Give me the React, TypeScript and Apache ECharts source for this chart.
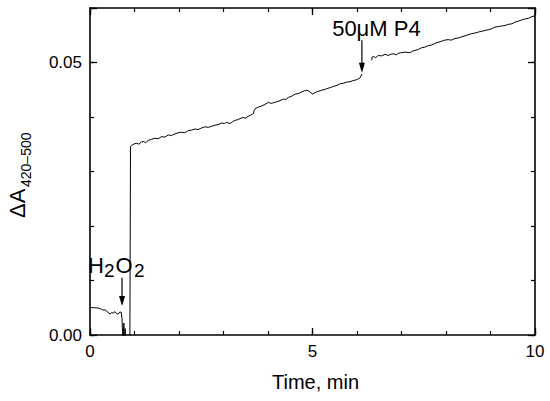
import React, { useEffect, useRef } from "react";
import * as echarts from "echarts";

const FONT = '"Liberation Sans", Arial, Helvetica, sans-serif';

// x ticks (min) and y ticks (ΔA)
const xTickValues = [0, 5, 10];
const yTickValues = [0, 0.05];

// Segment before and right after H2O2 addition (time min, ΔA)
const seg1Time = [0, 0.06, 0.12, 0.18, 0.24, 0.29, 0.34, 0.4, 0.45, 0.49, 0.52, 0.56, 0.6, 0.63, 0.67, 0.7, 0.72, 0.73, 0.745, 0.76, 0.775, 0.79, 0.81, 0.85, 0.895, 0.91];
const seg1Val = [0.0051, 0.005, 0.005, 0.00495, 0.0048, 0.00458, 0.0046, 0.0042, 0.00385, 0.0041, 0.004, 0.0043, 0.0039, 0.00385, 0.0042, 0.0042, 0.003, 0.0005, -0.002, 0.0022, -0.002, 0.0012, -0.003, -0.003, -0.004, 0.0346];

// Rising segment until P4 addition
const seg2Time = [0.94, 1.0, 1.05, 1.1, 1.15, 1.2, 1.25, 1.31, 1.38, 1.46, 1.53, 1.61, 1.68, 1.76, 1.83, 1.91, 1.98, 2.06, 2.13, 2.21, 2.28, 2.36, 2.43, 2.51, 2.58, 2.66, 2.73, 2.81, 2.88, 2.96, 3.02, 3.07, 3.15, 3.2, 3.26, 3.32, 3.37, 3.44, 3.5, 3.55, 3.6, 3.65, 3.67, 3.69, 3.71, 3.75, 3.78, 3.85, 3.93, 4.01, 4.06, 4.12, 4.2, 4.27, 4.35, 4.4, 4.46, 4.53, 4.61, 4.68, 4.76, 4.82, 4.87, 4.91, 4.94, 5.0, 5.06, 5.13, 5.2, 5.26, 5.32, 5.4, 5.47, 5.55, 5.62, 5.7, 5.77, 5.85, 5.92, 5.98, 6.03, 6.07, 6.11];
const seg2Val = [0.0348, 0.0351, 0.0352, 0.035, 0.0354, 0.0355, 0.0353, 0.0357, 0.0359, 0.0361, 0.036, 0.0364, 0.0363, 0.0367, 0.0366, 0.0369, 0.0371, 0.0372, 0.0371, 0.0375, 0.0376, 0.0378, 0.0377, 0.038, 0.0382, 0.0381, 0.0383, 0.0385, 0.0386, 0.0389, 0.0388, 0.039, 0.0388, 0.0391, 0.0394, 0.0395, 0.0397, 0.0399, 0.0398, 0.0401, 0.0403, 0.0405, 0.0406, 0.0412, 0.0415, 0.0417, 0.0418, 0.042, 0.0423, 0.0427, 0.0425, 0.0426, 0.0428, 0.043, 0.0433, 0.0432, 0.0436, 0.0438, 0.0442, 0.0443, 0.0446, 0.0448, 0.0449, 0.0448, 0.0446, 0.0442, 0.0445, 0.0447, 0.0449, 0.045, 0.0452, 0.0454, 0.0456, 0.0458, 0.0461, 0.0462, 0.0464, 0.0465, 0.0467, 0.0468, 0.047, 0.0472, 0.0479];

// Segment after P4 addition
const seg3Time = [6.33, 6.34, 6.37, 6.42, 6.48, 6.55, 6.63, 6.7, 6.76, 6.82, 6.88, 6.93, 7.0, 7.08, 7.19, 7.25, 7.3, 7.38, 7.45, 7.52, 7.6, 7.68, 7.75, 7.82, 7.9, 7.97, 8.05, 8.12, 8.2, 8.28, 8.35, 8.43, 8.5, 8.58, 8.65, 8.73, 8.8, 8.88, 8.95, 9.03, 9.1, 9.18, 9.25, 9.33, 9.4, 9.48, 9.55, 9.63, 9.7, 9.78, 9.85, 9.93, 10.0];
const seg3Val = [0.0504, 0.051, 0.0511, 0.0509, 0.0513, 0.0512, 0.0515, 0.0513, 0.0515, 0.0516, 0.0514, 0.0517, 0.0518, 0.0519, 0.0518, 0.0521, 0.0522, 0.0524, 0.0527, 0.0528, 0.0531, 0.0532, 0.0535, 0.0537, 0.0539, 0.0541, 0.0542, 0.0541, 0.0544, 0.0545, 0.0547, 0.0549, 0.0551, 0.0553, 0.0554, 0.0556, 0.0557, 0.0559, 0.056, 0.0562, 0.0565, 0.0566, 0.0567, 0.0568, 0.057, 0.0571, 0.0574, 0.0576, 0.0578, 0.058, 0.0581, 0.0584, 0.0586];

// Annotation anchors (data coords): arrow x, arrow top value, arrow tip value
const h2o2Arrow = [0.72, 0.0105, 0.0053];
const p4Arrow = [6.11, 0.0541, 0.0481];

function zip(t: number[], v: number[]) {
  return t.map((x, i) => [x, v[i]]);
}

export default function App() {
  const ref = useRef<HTMLDivElement>(null);
  useEffect(() => {
    document.body.style.margin = "0";
    const chart = echarts.init(ref.current!, undefined, { renderer: "svg" });
    const data: any[] = [
      ...zip(seg1Time, seg1Val),
      ...zip(seg2Time, seg2Val),
      [6.2, "-"],
      ...zip(seg3Time, seg3Val),
    ];
    const axisLine = { show: true, onZero: false, lineStyle: { color: "#000", width: 1.6 } };
    const noLine = { show: false, onZero: false };
    const majorTick = { show: true, inside: true, length: 7, lineStyle: { color: "#000", width: 1.3 } };
    const minorTick = { show: true, inside: true, length: 4, lineStyle: { color: "#000", width: 1.2 } };
    const xMax = xTickValues[xTickValues.length - 1];
    const xBase = { type: "value", min: 0, max: xMax, splitLine: { show: false } };
    const yBase = { type: "value", min: 0, max: 0.06, splitLine: { show: false } };
    chart.setOption({
      animation: false,
      backgroundColor: "#fff",
      grid: { left: 90, right: 15, top: 8, bottom: 66, containLabel: false },
      xAxis: [
        {
          ...xBase, position: "bottom", interval: 5, axisLine, axisTick: majorTick,
          axisLabel: { color: "#000", fontSize: 17, fontFamily: FONT, margin: 8 },
        },
        { ...xBase, position: "bottom", interval: 1, axisLine: noLine, axisTick: minorTick, axisLabel: { show: false } },
        { ...xBase, position: "top", interval: 5, axisLine, axisTick: majorTick, axisLabel: { show: false } },
        { ...xBase, position: "top", interval: 1, axisLine: noLine, axisTick: minorTick, axisLabel: { show: false } },
      ],
      yAxis: [
        {
          ...yBase, position: "left", interval: yTickValues[1], axisLine, axisTick: majorTick,
          axisLabel: {
            color: "#000", fontSize: 17, fontFamily: FONT, margin: 8,
            formatter: (v: number) => (yTickValues.some((t) => Math.abs(t - v) < 1e-9) ? v.toFixed(2) : ""),
          },
        },
        { ...yBase, position: "left", interval: 0.01, axisLine: noLine, axisTick: minorTick, axisLabel: { show: false } },
        { ...yBase, position: "right", interval: 0.05, axisLine, axisTick: majorTick, axisLabel: { show: false } },
        { ...yBase, position: "right", interval: 0.01, axisLine: noLine, axisTick: minorTick, axisLabel: { show: false } },
      ],
      series: [
        {
          type: "line", xAxisIndex: 0, yAxisIndex: 0, data, showSymbol: false, symbol: "none",
          connectNulls: false, clip: true,
          lineStyle: { color: "#000", width: 1 },
        },
      ],
    });

    const px = (p: number[]) => chart.convertToPixel({ xAxisIndex: 0, yAxisIndex: 0 }, p) as number[];
    const arrow = (a: number[]) => ({ top: px([a[0], a[1]]), tip: px([a[0], a[2]]) });
    const h = arrow(h2o2Arrow);
    const p = arrow(p4Arrow);
    const txt = (text: string, x: number, y: number, size: number, align = "left") => ({
      type: "text",
      style: {
        text, x, y, fill: "#000", fontSize: size, fontFamily: FONT,
        textAlign: align, align, textVerticalAlign: "middle", verticalAlign: "middle",
      },
    });
    const arrowEls = (a: { top: number[]; tip: number[] }) => [
      { type: "line", shape: { x1: a.top[0], y1: a.top[1], x2: a.tip[0], y2: a.tip[1] - 6 }, style: { stroke: "#000", lineWidth: 1.2 } },
      { type: "polygon", shape: { points: [[a.tip[0] - 3, a.tip[1] - 10], [a.tip[0] + 3, a.tip[1] - 10], [a.tip[0], a.tip[1]]] }, style: { fill: "#000" } },
    ];
    const plotBottom = px([0, 0])[1];
    const plotLeft = px([0, 0])[0];
    const plotRight = px([xMax, 0])[0];

    chart.setOption({
      graphic: [
        ...arrowEls(h),
        ...arrowEls(p),
        txt("H", h.top[0] - 34, h.top[1] - 12, 22),
        txt("2", h.top[0] - 18, h.top[1] - 7.5, 19),
        txt("O", h.top[0] - 6.5, h.top[1] - 12, 22),
        txt("2", h.top[0] + 12, h.top[1] - 7.5, 19),
        txt("50μM P4", p.top[0] + 14.5, p.top[1] - 11.5, 22, "center"),
        txt("Time, min", (plotLeft + plotRight) / 2 + 3, plotBottom + 47, 20, "center"),
        {
          type: "group",
          x: 17,
          y: 218,
          rotation: Math.PI / 2,
          children: [txt("ΔA", 0, 0, 22), txt("420–500", 31, 9, 14)],
        },
      ],
    });
    return () => chart.dispose();
  }, []);
  return <div ref={ref} style={{ width: 550, height: 401 }} />;
}
